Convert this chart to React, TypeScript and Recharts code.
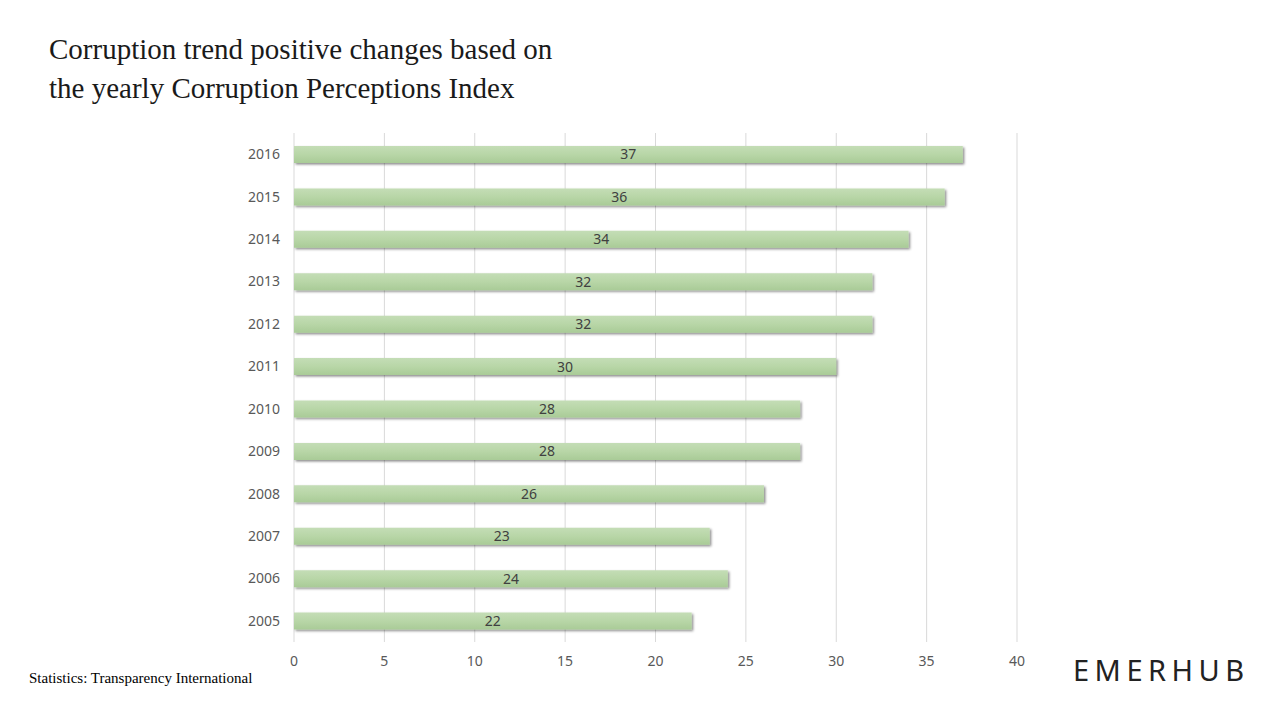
import { BarChart, Bar, XAxis, YAxis, CartesianGrid, LabelList } from 'recharts';

const years = ['2016', '2015', '2014', '2013', '2012', '2011', '2010', '2009', '2008', '2007', '2006', '2005'];
const scores = [37, 36, 34, 32, 32, 30, 28, 28, 26, 23, 24, 22];
const xTicks = [0, 5, 10, 15, 20, 25, 30, 35, 40];

const data = years.map((year, i) => ({ year, score: scores[i] }));

const App = () => {
    return (
        <div style={{ position: 'absolute', left: 0, top: 0, width: 1280, height: 720, background: '#fff' }}>
            <div
                style={{
                    position: 'absolute',
                    left: 49,
                    top: 30,
                    fontFamily: '"Liberation Serif", serif',
                    fontSize: 29,
                    lineHeight: '39px',
                    color: '#1a1a1a',
                }}
            >
                Corruption trend positive changes based on
                <br />
                the yearly Corruption Perceptions Index
            </div>
            <BarChart
                width={1280}
                height={720}
                data={data}
                layout="vertical"
                margin={{ top: 133, right: 263, bottom: 38, left: 0 }}
                barCategoryGap={0}
            >
                <defs>
                    <linearGradient id="barFill" x1="0" y1="0" x2="0" y2="1">
                        <stop offset="0%" stopColor="#c4ddb6" />
                        <stop offset="50%" stopColor="#b8d6a7" />
                        <stop offset="100%" stopColor="#a9cb97" />
                    </linearGradient>
                    <filter id="barShadow" x="-5%" y="-20%" width="110%" height="160%">
                        <feDropShadow dx="1.5" dy="1.5" stdDeviation="0.8" floodColor="#000" floodOpacity="0.45" />
                    </filter>
                </defs>
                <CartesianGrid horizontal={false} stroke="#d9d9d9" />
                <XAxis
                    type="number"
                    domain={[0, 40]}
                    ticks={xTicks}
                    axisLine={false}
                    tickLine={false}
                    tickSize={0}
                    tickMargin={14}
                    height={40}
                    tick={{ fill: '#595959', fontSize: 14, fontFamily: '"Noto Sans", sans-serif' }}
                />
                <YAxis
                    type="category"
                    dataKey="year"
                    width={294}
                    axisLine={false}
                    tickLine={false}
                    tickSize={0}
                    tickMargin={14}
                    tick={{ fill: '#595959', fontSize: 14, fontFamily: '"Noto Sans", sans-serif' }}
                />
                <Bar
                    dataKey="score"
                    barSize={17}
                    fill="url(#barFill)"
                    filter="url(#barShadow)"
                    isAnimationActive={false}
                >
                    <LabelList
                        dataKey="score"
                        position="center"
                        fill="#404040"
                        fontSize={14}
                        fontFamily='"Noto Sans", sans-serif'
                    />
                </Bar>
            </BarChart>
            <div
                style={{
                    position: 'absolute',
                    left: 29,
                    top: 670,
                    fontFamily: '"Liberation Serif", serif',
                    fontSize: 15,
                    color: '#000',
                }}
            >
                Statistics: Transparency International
            </div>
            <div
                style={{
                    position: 'absolute',
                    left: 1073,
                    top: 652,
                    fontFamily: '"Noto Sans", sans-serif',
                    fontSize: 29,
                    letterSpacing: 5.5,
                    color: '#222',
                    lineHeight: '36px',
                }}
            >
                EMERHUB
            </div>
        </div>
    );
};

export default App;
